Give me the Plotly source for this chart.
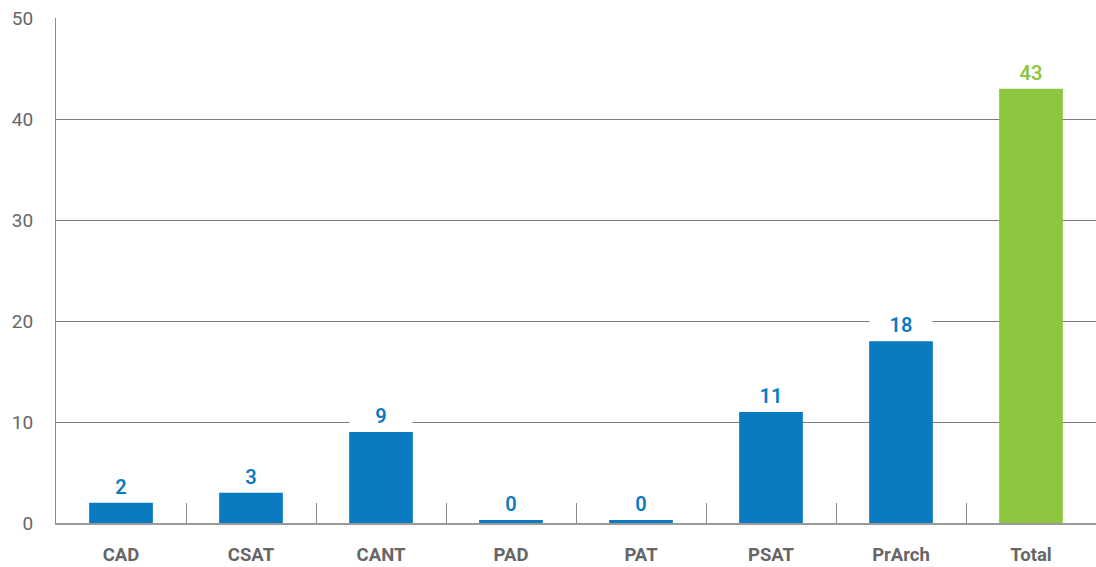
import plotly.graph_objects as go

categories = ["CAD", "CSAT", "CANT", "PAD", "PAT", "PSAT", "PrArch", "Total"]
values = [2, 3, 9, 0, 0, 11, 18, 43]
y_ticks = [0, 10, 20, 30, 40, 50]

BLUE = "#0a7bc1"
GREEN = "#8dc63f"
colors = [BLUE] * 7 + [GREEN]
MIN_VISIBLE = 0.3  # zero bars are drawn as a thin sliver, as in the reference
heights = [v if v > 0 else MIN_VISIBLE for v in values]

fig = go.Figure()
fig.add_trace(go.Bar(
    x=categories, y=heights, marker=dict(color=colors, line=dict(width=0)),
    hoverinfo="skip", showlegend=False,
))

for c, h, v, col in zip(categories, heights, values, colors):
    fig.add_annotation(
        x=c, y=h, text=str(v), showarrow=False, yanchor="bottom", yshift=4,
        bgcolor="white", width=62, height=22, borderpad=0,
        font=dict(family="Roboto, Liberation Sans, sans-serif", size=20, color=col, weight=600),
    )

fig.update_layout(
    width=1096, height=567,
    margin=dict(l=56, r=0, t=18, b=44),
    paper_bgcolor="white", plot_bgcolor="white",
    bargap=0.51,
    xaxis=dict(
        showgrid=False, showline=True, linecolor="#9a9a9a", linewidth=2,
        ticks="inside", tickson="boundaries", ticklen=20, tickcolor="#8a8a8a", tickwidth=1,
        ticklabelstandoff=14,
        tickfont=dict(family="Roboto, Liberation Sans, sans-serif", size=18.5, color="#666666", weight="bold"),
        fixedrange=True,
    ),
    yaxis=dict(
        range=[0, 50], tickvals=y_ticks, ticktext=[str(t) for t in y_ticks],
        showgrid=True, gridcolor="#7a7a7a", gridwidth=1,
        showline=True, linecolor="#8a8a8a", linewidth=1,
        zeroline=False, ticks="", ticklabelstandoff=18,
        tickfont=dict(family="Roboto, Liberation Sans, sans-serif", size=19, color="#666666"),
        fixedrange=True,
    ),
)

fig.write_html("out.html", config={"displayModeBar": False})
